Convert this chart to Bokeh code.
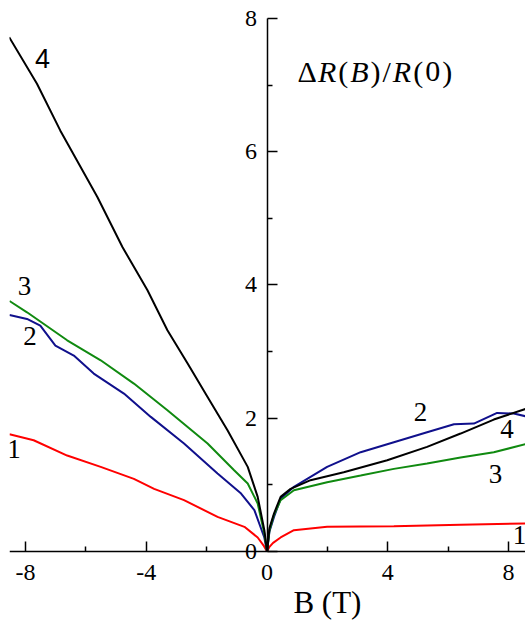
from bokeh.plotting import figure
from bokeh.models import ColumnDataSource, FixedTicker, Label
from bokeh.core.properties import value
from bokeh.embed import file_html
from bokeh.resources import INLINE

# ---- data ----
b1 = [-8.53, -7.73, -6.62, -5.51, -4.41, -3.74, -2.75, -1.64, -0.75, -0.31, -0.10, 0.0,
      0.08, 0.20, 0.45, 0.89, 1.99, 4.20, 6.41, 8.56]
r1 = [1.76, 1.67, 1.44, 1.27, 1.09, 0.94, 0.77, 0.52, 0.37, 0.21, 0.08, 0.0,
      0.07, 0.13, 0.21, 0.32, 0.37, 0.38, 0.40, 0.42]

b2 = [-8.53, -7.95, -7.51, -7.01, -6.40, -5.74, -4.74, -3.85, -2.75, -1.64, -0.86, -0.42, -0.09, 0.0,
      0.08, 0.23, 0.45, 0.89, 1.44, 1.99, 3.10, 4.20, 5.30, 6.19, 6.85, 7.62, 8.17, 8.56]
r2 = [3.55, 3.49, 3.39, 3.09, 2.94, 2.67, 2.37, 2.02, 1.62, 1.17, 0.87, 0.62, 0.21, 0.0,
      0.30, 0.52, 0.79, 0.97, 1.12, 1.27, 1.49, 1.64, 1.79, 1.91, 1.92, 2.08, 2.07, 2.03]

b3 = [-8.53, -7.95, -6.62, -5.51, -4.41, -3.30, -1.97, -1.09, -0.64, -0.31, -0.09, 0.0,
      0.08, 0.23, 0.45, 0.89, 1.99, 3.10, 4.20, 5.30, 6.41, 7.51, 8.56]
r3 = [3.76, 3.59, 3.17, 2.87, 2.52, 2.12, 1.62, 1.22, 1.02, 0.72, 0.27, 0.0,
      0.32, 0.55, 0.77, 0.92, 1.04, 1.14, 1.24, 1.32, 1.41, 1.49, 1.61]

b4 = [-8.54, -7.62, -6.85, -5.62, -4.79, -3.96, -3.30, -2.63, -1.97, -1.31, -0.64, -0.31, -0.09, 0.0,
      0.08, 0.23, 0.45, 0.78, 1.44, 2.54, 3.98, 5.30, 6.41, 7.51, 8.56]
r4 = [7.72, 7.02, 6.32, 5.32, 4.57, 3.92, 3.32, 2.82, 2.32, 1.82, 1.27, 0.82, 0.32, 0.0,
      0.35, 0.57, 0.82, 0.94, 1.07, 1.19, 1.37, 1.57, 1.77, 1.98, 2.14]

curve_colors = ["#ff0000", "#10108c", "#108a10", "#000000"]

# curve number labels
lab_x = [-8.38, -7.85, -8.03, 8.36, 5.08, 7.57, 7.95]
lab_y = [1.54, 3.24, 3.99, 0.24, 2.10, 1.17, 1.84]
lab_t = ["1", "2", "3", "1", "2", "3", "4"]
lab4_x = [-7.44]
lab4_y = [7.40]
lab4_t = ["4"]

x_ticks = [-8, -4, 0, 4, 8]
x_minor = [-6, -2, 2, 6]
x_tick_text = {-8: "-8", -4: "-4", 0: "0", 4: "4", 8: "8"}
y_ticks = [0, 2, 4, 6, 8]
y_minor = [1, 3, 5, 7]

x_title = "B (T)"
x_title_pos = (2.0, -0.765)
y_title_y = 7.197
y_title_parts = [("\u0394", "normal", 18.4), ("R", "italic", 18.3), ("(", "normal", 10.0),
                 ("B", "italic", 18.3), (")", "normal", 10.0), ("/", "normal", 8.3),
                 ("R", "italic", 18.3), ("(", "normal", 10.0), ("0", "normal", 15.0),
                 (")", "normal", 10.0)]

SERIF = "Liberation Serif"

p = figure(width=525, height=620, output_backend="svg", toolbar_location=None,
           x_range=(-8.53, 8.56), y_range=(-1.036, 8.27),
           min_border_left=9, min_border_right=0, min_border_top=0, min_border_bottom=0)
p.outline_line_color = None
p.xgrid.visible = False
p.ygrid.visible = False
p.background_fill_color = "white"
p.border_fill_color = "white"

for xs, ys, c in zip([b1, b2, b3, b4], [r1, r2, r3, r4], curve_colors):
    p.line(xs, ys, line_color=c, line_width=2)

src = ColumnDataSource(dict(x=lab_x, y=lab_y, t=lab_t))
p.text(x="x", y="y", text="t", source=src, text_font=value(SERIF),
       text_font_size=value("27px"), text_align="center", text_baseline="middle",
       text_color="black")
src4 = ColumnDataSource(dict(x=lab4_x, y=lab4_y, t=lab4_t))
p.text(x="x", y="y", text="t", source=src4, text_font=value("Liberation Sans"),
       text_font_size=value("27px"), text_align="center", text_baseline="middle",
       text_color="black")

# axes crossing at the origin
p.xaxis.ticker = FixedTicker(ticks=x_ticks, minor_ticks=x_minor)
p.yaxis.ticker = FixedTicker(ticks=y_ticks, minor_ticks=y_minor)
p.xaxis.fixed_location = 0
p.yaxis.fixed_location = 0
p.yaxis.bounds = (0, 8)
p.xaxis.major_label_overrides = x_tick_text
for ax in (p.xaxis, p.yaxis):
    ax.axis_line_color = "black"
    ax.axis_line_width = 1.5
    ax.major_tick_line_width = 1.5
    ax.minor_tick_line_width = 1.5
    ax.major_tick_in = 10
    ax.major_tick_out = 0
    ax.minor_tick_in = 5
    ax.minor_tick_out = 0
    ax.major_label_text_font = SERIF
    ax.major_label_text_font_size = "24px"
    ax.major_label_text_color = "black"
p.xaxis.major_label_standoff = 14
p.yaxis.major_label_standoff = 10

# x-axis title
p.add_layout(Label(x=x_title_pos[0], y=x_title_pos[1], text=x_title, text_font=SERIF,
                   text_font_size="31px", text_align="center", text_baseline="middle",
                   text_color="black"))

# y title composed of normal and italic pieces
off = 30.5
for txt, style, w in y_title_parts:
    p.add_layout(Label(x=0, y=y_title_y, x_offset=off, text=txt, text_font=SERIF,
                       text_font_size="30px", text_font_style=style,
                       text_align="left", text_baseline="middle", text_color="black"))
    off += w + 2.0

open("out.html", "w").write(file_html(p, INLINE))
